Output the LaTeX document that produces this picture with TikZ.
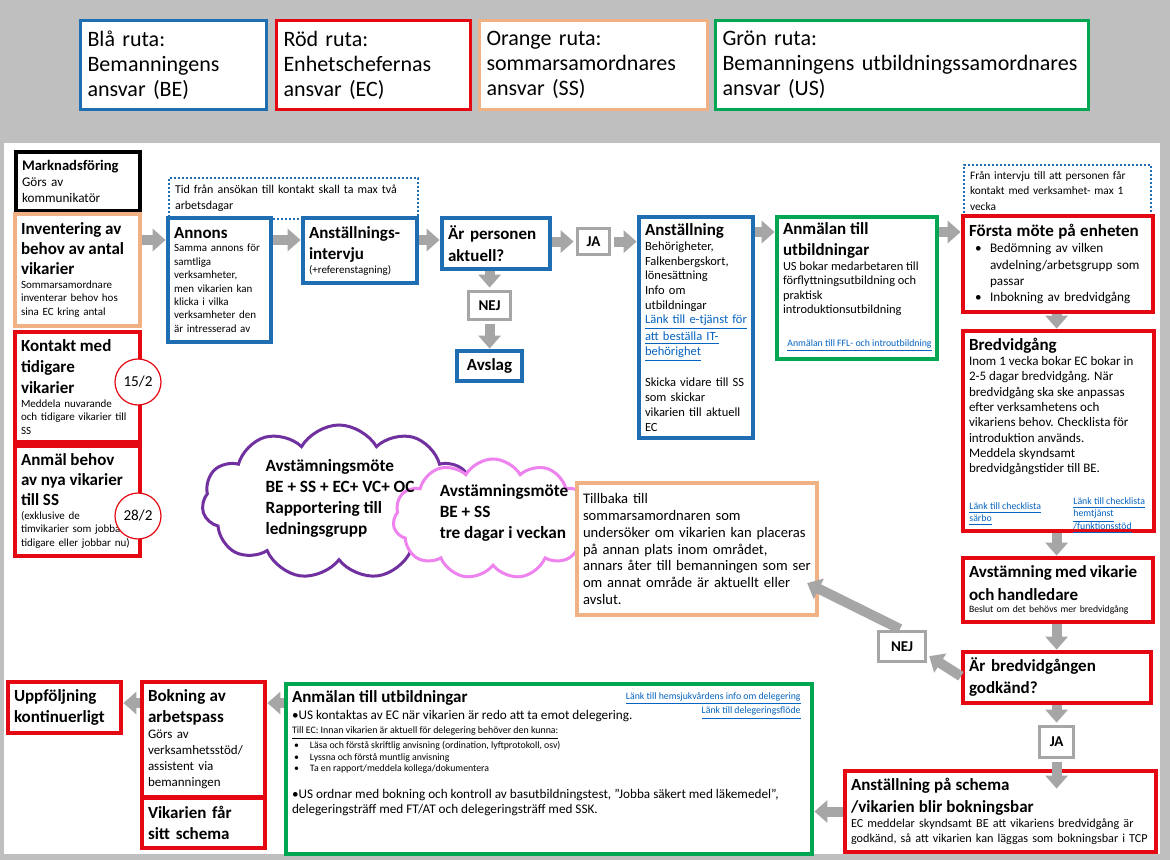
\documentclass[tikz,border=0pt]{standalone}
\usepackage{fontspec}
\setmainfont{Carlito}
\usetikzlibrary{arrows.meta}
\usetikzlibrary{calc}
\usetikzlibrary{shapes.symbols}
\usepackage{xcolor}

\definecolor{bggray}{RGB}{191,191,191}
\definecolor{arrowgray}{RGB}{166,166,166}
\definecolor{beblue}{RGB}{31,110,180}
\definecolor{ecred}{RGB}{228,8,18}
\definecolor{ssorange}{RGB}{240,178,132}
\definecolor{usgreen}{RGB}{0,166,81}
\definecolor{mtpurple}{RGB}{112,48,160}
\definecolor{mtpink}{RGB}{238,130,238}
\definecolor{linkblue}{RGB}{5,99,193}

\newcommand{\fsz}[2]{\fontsize{#1}{#2}\selectfont}
\newcommand{\boxhead}{\bfseries\fsz{8.5}{10.5}}
\newcommand{\linktext}[1]{\textcolor{linkblue}{\underline{#1}}}

\tikzset{
 box/.style={draw, line width=1.6pt, fill=white, anchor=north west, align=left, inner xsep=3pt, inner ysep=1pt, outer sep=0pt},
 bluebox/.style={box, draw=beblue},
 redbox/.style={box, draw=ecred},
 orangebox/.style={box, draw=ssorange},
 greenbox/.style={box, draw=usgreen},
 dotbox/.style={draw=beblue, line width=1pt, dash pattern=on 1pt off 1pt, anchor=north west, align=left, inner xsep=3pt, inner ysep=1pt},
 answer/.style={draw=arrowgray, line width=1.6pt, fill=white, anchor=north west, inner sep=0pt, font=\bfseries\fsz{7.5}{9}},
 datecircle/.style={circle, draw=ecred, line width=0.6pt, fill=white, minimum size=23pt, inner sep=0pt, font=\fsz{7.6}{9}},
 legend/.style={draw, line width=1.5pt, fill=white, anchor=north west, align=left, inner xsep=3.5pt, minimum height=44.5pt, font=\fsz{11}{12.5}},
 link/.style={anchor=north west, inner sep=0pt, align=left, text=linkblue, font=\fsz{4.9}{6.3}},
 meeting/.style={cloud, cloud puffs=11, cloud puff arc=120, line width=1.5pt, fill=white, inner sep=0pt},
 meetingtext/.style={align=left, font=\bfseries\fsz{8.6}{10.5}, inner sep=0pt},
 garrow/.style={draw=arrowgray, line width=5pt, -{Triangle[width=11pt,length=6.5pt]}, shorten <=1.2pt, shorten >=1.2pt},
}

\begin{document}
\begin{tikzpicture}[x=0.5pt, y=-0.5pt]
\useasboundingbox (0,0) rectangle (1170,860);
\fill[bggray] (0,0) rectangle (1170,860);
\fill[white] (4,143) rectangle (1160,854);

% legend
\node[legend, draw=beblue, text width=86pt] (legbe) at (79,19) {Blå ruta:\\Bemanningens\\ansvar (BE)};
\node[legend, draw=ecred, text width=90pt] (legec) at (275,19) {Röd ruta:\\Enhetschefernas\\ansvar (EC)};
\node[legend, draw=ssorange, text width=107pt] (legss) at (478,19) {Orange ruta:\\sommarsamordnares\\ansvar (SS)};
\node[legend, draw=usgreen, text width=179.5pt] (legus) at (714,19) {Grön ruta:\\\mbox{Bemanningens utbildningssamordnares}\\ansvar (US)};

% time limits
\node[dotbox, text width=118.5pt, minimum height=20.5pt, font=\fsz{6}{8}] (tid) at (168,177) {Tid från ansökan till kontakt skall ta max två\\arbetsdagar};
\node[dotbox, text width=87.5pt, minimum height=26pt, font=\fsz{5.7}{7.75}] (fran) at (963,164) {Från intervju till att personen får\\kontakt med verksamhet- max 1\\vecka};

% left column
\node[box, draw=black, line width=2pt, text width=56pt, minimum height=29.5pt, font=\fsz{6.6}{8}] (mark) at (16,152) {{\bfseries\fsz{7.3}{8.5}Marknadsföring\par}Görs av\\kommunikatör};
\node[orangebox, text width=56.5pt, minimum height=56pt, font=\fsz{5.5}{6.9}] (inv) at (15,214) {{\bfseries\fsz{8.5}{10}Inventering av\\behov av antal\\vikarier\par}Sommarsamordnare\\inventerar behov hos\\sina EC kring antal};
\node[redbox, text width=56.5pt, minimum height=55pt, font=\fsz{5.5}{6.7}] (kont) at (15,332) {{\boxhead Kontakt med\\tidigare\\vikarier\par}Meddela nuvarande\\och tidigare vikarier till\\SS};
\node[redbox, text width=56.5pt, minimum height=55pt, font=\fsz{5.5}{6.9}] (anm) at (15,446) {{\bfseries\fsz{8.5}{10}Anmäl behov\\av nya vikarier\\till SS\par}(exklusive de\\timvikarier som jobbat\\tidigare eller jobbar nu)};
\node[datecircle] (d15) at (138,382) {15/2};
\node[datecircle] (d28) at (138,516) {28/2};

% top row
\node[bluebox, text width=45.5pt, minimum height=62pt, font=\fsz{5.5}{6.7}] (ann) at (168,218) {{\boxhead Annons\par}Samma annons för\\samtliga\\verksamheter,\\men vikarien kan\\klicka i vilka\\verksamheter den\\är intresserad av};
\node[bluebox, text width=51pt, minimum height=32.5pt, font=\fsz{5.5}{7}] (intv) at (303,218) {{\boxhead Anställnings-\\intervju\par}(+referenstagning)};
\node[bluebox, text width=48pt, minimum height=25.5pt, font=\bfseries\fsz{8.5}{11}] (akt) at (442,218) {Är personen\\aktuell?};
\node[answer, minimum width=16pt, minimum height=13pt] (ja1) at (576,227) {JA};
\node[answer, minimum width=21pt, minimum height=14pt] (nej1) at (467,290) {NEJ};
\node[bluebox, align=center, minimum width=32.5pt, minimum height=15pt, font=\boxhead] (avs) at (457,351) {Avslag};
\node[bluebox, text width=51pt, minimum height=110.5pt, font=\fsz{6.25}{7.35}] (anst) at (639,217) {{\boxhead Anställning\par}Behörigheter,\\Falkenbergskort,\\lönesättning\\Info om\\utbildningar\\\linktext{Länk till e-tjänst för}\\\linktext{att beställa IT-}\\\linktext{behörighet}\\[7.35pt]Skicka vidare till SS\\som skickar\\vikarien till aktuell\\EC};
\node[greenbox, inner ysep=3pt, font=\fsz{6.2}{7.25}] (utb) at (777,217) {\parbox[c][65pt][t]{74pt}{{\boxhead Anmälan till\\utbildningar\par}US bokar medarbetaren till\\förflyttningsutbildning och\\praktisk\\introduktionsutbildning}};
\node[link] (utblink) at (787,339) {\underline{Anmälan till FFL- och introutbildning}};

% right column
\node[redbox, text width=89pt, minimum height=48pt, font=\fsz{6.6}{8.1}] (forsta) at (963,216) {{\boxhead Första möte på enheten\par}\hspace*{3pt}\makebox[7.5pt][l]{•}Bedömning av vilken\\\hspace*{10.5pt}avdelning/arbetsgrupp som\\\hspace*{10.5pt}passar\\\hspace*{3pt}\makebox[7.5pt][l]{•}Inbokning av bredvidgång};
\node[redbox, inner ysep=3.5pt, font=\fsz{6.5}{7.65}] (bred) at (963,331) {\parbox[c][93pt][t]{89.5pt}{{\boxhead Bredvidgång\par}Inom 1 vecka bokar EC bokar in\\2-5 dagar bredvidgång. När\\bredvidgång ska ske anpassas\\efter verksamhetens och\\vikariens behov. Checklista för\\introduktion används.\\Meddela skyndsamt\\bredvidgångstider till BE.}};
\node[link] (brl) at (969,502) {\underline{Länk till checklista}\\\underline{särbo}};
\node[link] (brr) at (1073,497) {\underline{Länk till checklista}\\\underline{hemtjänst}\\\underline{/funktionsstöd}};
\node[redbox, text width=89pt, minimum height=32pt, font=\fsz{4.85}{6}] (avst) at (963,558) {{\bfseries\fsz{8.5}{11.5}Avstämning med vikarie\\och handledare\par}Beslut om det behövs mer bredvidgång};
\node[redbox, text width=88pt, minimum height=25.5pt, font=\bfseries\fsz{8.5}{11}] (godk) at (963,652) {Är bredvidgången\\godkänd?};
\node[answer, minimum width=23.5pt, minimum height=15pt] (nej2) at (877,630) {NEJ};
\node[answer, minimum width=17pt, minimum height=15.5pt] (ja2) at (1038,725) {JA};
\node[redbox, text width=149.5pt, minimum height=40.5pt, font=\fsz{6.1}{7.5}] (schema) at (845,771) {{\bfseries\fsz{8.5}{11}Anställning på schema\\/vikarien blir bokningsbar\par}EC meddelar skyndsamt BE att vikariens bredvidgång är\\godkänd, så att vikarien kan läggas som bokningsbar i TCP};

% bottom row
\node[greenbox, inner ysep=3.5pt] (utb2) at (286,684) {\parbox[c][78pt][t]{257pt}{{\boxhead Anmälan till utbildningar\par}{\fsz{6.6}{8.5}•US kontaktas av EC när vikarien är redo att ta emot delegering.\par}{\fsz{4.95}{7}\underline{Till EC: Innan vikarien är aktuell för delegering behöver den kunna:}\par}{\fsz{4.9}{5.75}\hspace*{1pt}\makebox[8pt][l]{•}Läsa och förstå skriftlig anvisning (ordination, lyftprotokoll, osv)\\\hspace*{1pt}\makebox[8pt][l]{•}Lyssna och förstå muntlig anvisning\\\hspace*{1pt}\makebox[8pt][l]{•}Ta en rapport/meddela kollega/dokumentera\par}\vspace{6pt}{\fsz{6.6}{7.5}•US ordnar med bokning och kontroll av basutbildningstest, ”Jobba säkert med läkemedel”,\\delegeringsträff med FT/AT och delegeringsträff med SSK.\par}}};
\node[link, anchor=north east, align=right, font=\fsz{4.9}{5.5}] (utb2link) at (801,692) {\underline{Länk till hemsjukvårdens info om delegering}\\\underline{Länk till delegeringsflöde}};
\node[redbox, text width=55.5pt, minimum height=57.5pt, font=\fsz{6.5}{8}] (bokn) at (142,682) {{\boxhead Bokning av\\arbetspass\par}Görs av\\verksamhetsstöd/\\assistent via\\bemanningen};
\node[redbox, text width=55.5pt, minimum height=25pt, font=\boxhead] (vik) at (142,798) {Vikarien får\\sitt schema};
\node[redbox, text width=50.5pt, minimum height=25.5pt, font=\boxhead] (uppf) at (8,682) {Uppföljning\\kontinuerligt};

% meetings
\node[meeting, draw=mtpurple, minimum width=137pt, minimum height=77pt] (mtall) at (339,502) {};
\node[meeting, draw=mtpink, minimum width=100pt, minimum height=60pt] (mtbess) at (493,519) {};
\node[meetingtext] (mtalltxt) at (340,498) {Avstämningsmöte\\BE + SS + EC+ VC+ OC\\Rapportering till\\ledningsgrupp};
\node[meetingtext] (mtbesstxt) at (504,513) {Avstämningsmöte\\BE + SS\\tre dagar i veckan};
\node[orangebox, text width=114pt, minimum height=66pt, font=\fsz{7.3}{8.4}] (tillb) at (577,483) {Tillbaka till\\sommarsamordnaren som\\\mbox{undersöker om vikarien kan placeras}\\på annan plats inom området,\\\mbox{annars åter till bemanningen som ser}\\om annat område är aktuellt eller\\avslut.};

% arrows
\coordinate (row1) at (0,240);
\coordinate (row2) at (0,232);
\coordinate (row3) at (0,703);
\foreach \a/\b in {inv/ann, ann/intv, intv/akt}
 \draw[garrow] (\a.east |- row1) -- (\b.west |- row1);
\draw[garrow] (akt.east |- ja1.west) -- (ja1.west);
\draw[garrow] (ja1.east) -- (anst.west |- ja1.east);
\foreach \a/\b in {anst/utb, utb/forsta}
 \draw[garrow] (\a.east |- row2) -- (\b.west |- row2);
\draw[garrow] (akt.south -| nej1.north) -- (nej1.north);
\draw[garrow] (nej1.south) -- (nej1.south |- avs.north);
\foreach \a/\b in {forsta/bred, bred/avst, avst/godk}
 \draw[garrow] (ja2.north |- \a.south) -- (ja2.north |- \b.north);
\draw[garrow] (ja2.north |- godk.south) -- (ja2.north);
\draw[garrow] (ja2.south) -- ($(ja2.south |- schema.north)+(0,20)$);
\draw[garrow] (godk.west) -- ($(nej2.east)!0.5!(nej2.south east)$);
\draw[garrow] (nej2.north) -- ($(tillb.south east)+(-12,-33)$);
\draw[garrow] (schema.west) -- (utb2.east |- schema.west);
\draw[garrow] (utb2.west |- row3) -- (bokn.east |- row3);
\draw[garrow] (bokn.west |- row3) -- (uppf.east |- row3);
\end{tikzpicture}
\end{document}
